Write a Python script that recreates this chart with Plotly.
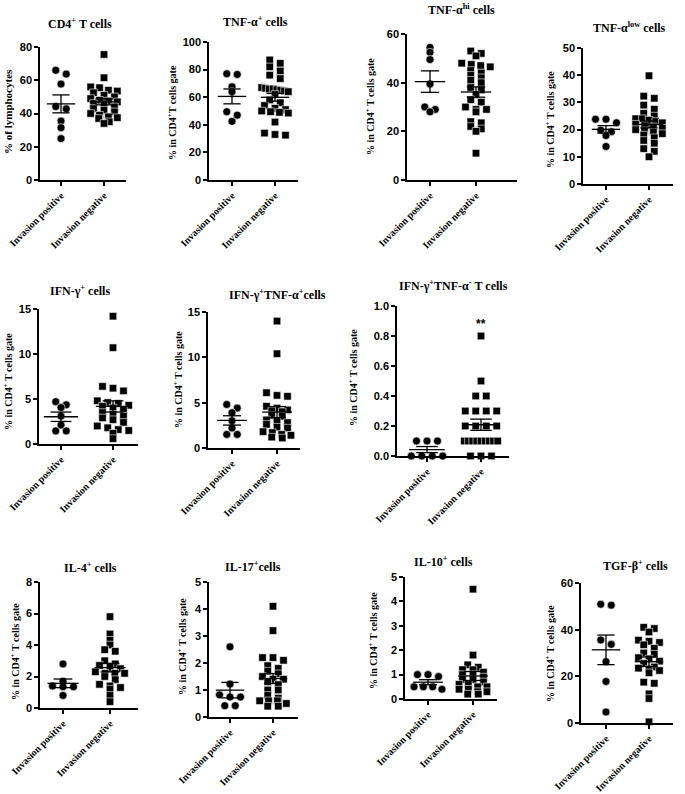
import numpy as np
import plotly.graph_objects as go

W, H = 685, 794

categories = ["Invasion positive", "Invasion negative"]

titles = [
    "CD4<sup>+</sup> T cells",
    "TNF-α<sup>+</sup> cells",
    "TNF-α<sup>hi</sup> cells",
    "TNF-α<sup>low</sup> cells",
    "IFN-γ<sup>+</sup> cells",
    "IFN-γ<sup>+</sup>TNF-α<sup>+</sup>cells",
    "IFN-γ<sup>+</sup>TNF-α<sup>-</sup> T cells",
    "IL-4<sup>+</sup> cells",
    "IL-17<sup>+</sup>cells",
    "IL-10<sup>+</sup> cells",
    "TGF-β<sup>+</sup> cells",
]
ylabels = [
    "% of lymphocytes",
    "% in CD4<sup>+</sup>T cells gate",
    "% in CD4<sup>+</sup> T cells gate",
    "% in CD4<sup>+</sup> T cells gate",
    "% in CD4<sup>+</sup> T cells gate",
    "% in CD4<sup>+</sup> T cells gate",
    "% in CD4<sup>+</sup> T cells gate",
    "% in CD4<sup>+</sup> T cells gate",
    "% in CD4<sup>+</sup> T cells gate",
    "% in CD4<sup>+</sup> T cells gate",
    "% in CD4<sup>+</sup> T cells gate",
]
y_max = [80, 100, 60, 50, 15, 15, 1.0, 8, 5, 5, 60]
y_dtick = [20, 20, 20, 10, 5, 5, 0.2, 2, 1, 1, 20]
y_tickformat = ["d", "d", "d", "d", "d", "d", ".1f", "d", "d", "d", "d"]

# ---- data (positive = circles, negative = squares) ----
cd4_pos = [66, 63.7, 57.7, 44.2, 42.8, 35.5, 31.5, 24.9]
cd4_neg = [75.5, 61.5, 56, 55.5, 54, 53.5, 52.5, 51, 50, 49, 48, 47.5, 47, 46, 45,
           44, 43, 42, 41, 40, 39, 38, 37.5, 37, 35, 34]

tnf_pos = [77, 76.5, 67.5, 64, 49.5, 47, 42.5]
tnf_neg = [87, 84.5, 82, 79, 76, 73.5, 67, 66.5, 66, 66, 65.5, 65, 64.5, 64, 62, 58,
           56, 54, 52, 51, 50, 49.5, 49, 48.5, 42, 34, 33, 32.5]

tnfhi_pos = [54.5, 52.5, 49.5, 39.5, 30, 29, 28]
tnfhi_neg = [53, 52, 51, 48, 47.5, 47, 46.5, 45, 44, 43, 42, 41, 40, 38, 37, 35, 33,
             32, 30, 29, 29, 28, 24, 23.5, 22, 21, 20, 11]

tnflow_pos = [23.8, 23.8, 22.5, 19.8, 19.2, 17.8, 13.8]
tnflow_neg = [39.8, 32.3, 31.5, 29, 27.5, 26, 25, 24, 24, 23.5, 23, 22.5, 22, 21.5, 21,
              20.5, 20, 19.5, 19, 18.5, 18, 17, 16, 15, 13, 12, 10]

ifn_pos = [4.7, 4.35, 4.05, 3.1, 2.1, 1.45, 1.45]
ifn_neg = [14.2, 10.7, 6.4, 6.2, 5.9, 4.8, 4.6, 4.5, 4.3, 4.2, 4.0, 3.8, 3.5, 3.3, 3.1,
           2.9, 2.7, 2.4, 2.0, 1.8, 1.6, 1.5, 1.2, 0.6]

ifntnf_pos = [4.8, 4.4, 3.9, 3.0, 2.2, 1.5, 1.5]
ifntnf_neg = [14.0, 10.4, 6.1, 5.8, 5.7, 4.6, 4.4, 4.2, 4.1, 4.0, 3.6, 3.5, 3.1, 3.0,
              2.8, 2.6, 2.3, 2.2, 1.8, 1.7, 1.5, 1.4, 1.2, 1.1]

ifnnotnf_pos = [0.1, 0.1, 0.1, 0.0, 0.0, 0.0, 0.0]
ifnnotnf_neg = [0.8, 0.5, 0.4, 0.4, 0.3, 0.3, 0.3, 0.3, 0.2, 0.2, 0.2, 0.2, 0.1, 0.1,
                0.1, 0.1, 0.1, 0.1, 0.1, 0.1, 0.1, 0.0, 0.0, 0.0]

il4_pos = [2.8, 1.7, 1.4, 1.35, 1.35, 0.8]
il4_neg = [5.8, 4.7, 4.3, 4.0, 3.7, 3.6, 3.0, 2.8, 2.7, 2.6, 2.5, 2.3, 2.2, 2.2, 2.2,
           2.0, 1.8, 1.5, 1.4, 1.3, 1.2, 0.8, 0.4]

il17_pos = [2.6, 1.22, 0.82, 0.74, 0.74, 0.42, 0.42]
il17_neg = [4.1, 3.2, 2.2, 2.2, 2.1, 1.9, 1.8, 1.7, 1.6, 1.5, 1.4, 1.4, 1.3, 1.2, 1.0,
            1.0, 0.8, 0.7, 0.6, 0.6, 0.6, 0.5, 0.4, 0.4]

il10_pos = [1.0, 0.92, 1.0, 0.4, 0.5, 0.5, 0.5]
il10_neg = [4.5, 1.8, 1.4, 1.3, 1.2, 1.2, 1.1, 1.0, 1.0, 0.9, 0.8, 0.8, 0.7, 0.6, 0.6,
            0.5, 0.5, 0.4, 0.4, 0.3, 0.3, 0.2, 0.2]

tgf_pos = [50.9, 50.5, 35.6, 33.7, 26.3, 17.8, 4.7]
tgf_neg = [41, 40.5, 39, 35.5, 35, 34.5, 33.5, 32, 30, 29.5, 28, 27.5, 26.5, 25.5, 24,
           23.5, 23, 22.5, 21.5, 17.5, 17, 12.5, 10.5, 0.5]

positive = [cd4_pos, tnf_pos, tnfhi_pos, tnflow_pos, ifn_pos, ifntnf_pos, ifnnotnf_pos,
            il4_pos, il17_pos, il10_pos, tgf_pos]
negative = [cd4_neg, tnf_neg, tnfhi_neg, tnflow_neg, ifn_neg, ifntnf_neg, ifnnotnf_neg,
            il4_neg, il17_neg, il10_neg, tgf_neg]

# ---- layout geometry (pixels): axis x, axis end x, top tick y, zero y,
#      category 1 x, category 2 x, title cx, title y, ylabel x, ylabel y
geom = [
    (40, 126, 47, 180, 61, 104, 80, 24, 8, 112),
    (209, 298, 42, 180, 232, 275, 255, 22, 172, 113),
    (407, 517, 34, 180, 430, 476, 461, 9, 370, 107),
    (583, 673, 48, 184, 606, 649, 629, 28, 550, 120),
    (39, 138, 309, 444, 61, 113, 80, 290, 8, 382),
    (208, 300, 312, 448, 232, 277, 277, 294, 178, 380),
    (397, 509, 306, 456, 427, 481, 453, 285, 353, 377),
    (40, 138, 582, 708, 63, 110, 90, 567, 15, 652),
    (209, 298, 582, 717, 230, 273, 253, 566, 182, 647),
    (405, 497, 577, 699, 428, 473, 443, 561, 373, 641),
    (581, 673, 583, 723, 606, 649, 635, 565, 550, 654),
]

SERIF = "Liberation Serif"
SANS = "Liberation Sans"


def swarm(vals, center, px_x, px_y, row_h=4.5, step=10.5, max_w=0.62):
    order = sorted(range(len(vals)), key=lambda i: -vals[i])
    xs = [center] * len(vals)
    groups, cur = [], []
    for i in order:
        if cur and (vals[cur[0]] - vals[i]) * px_y > row_h:
            groups.append(cur)
            cur = []
        cur.append(i)
    if cur:
        groups.append(cur)
    for g in groups:
        n = len(g)
        if n == 1:
            continue
        sp = min(step, max_w * px_x / (n - 1))
        for k, i in enumerate(g):
            xs[i] = center + (k - (n - 1) / 2) * sp / px_x
    return xs


fig = go.Figure()
annotations = []

for p in range(11):
    ax_x, x_end, y_top, y0, c1, c2, tcx, ty, lx, ly = geom[p]
    n = p + 1
    xa = "x" if n == 1 else f"x{n}"
    ya = "y" if n == 1 else f"y{n}"
    px_x = c2 - c1
    px_y = (y0 - y_top) / y_max[p]
    xr = [(ax_x - c1) / px_x, (x_end - c1) / px_x]

    for gi, (vals, sym) in enumerate([(positive[p], "circle"), (negative[p], "square")]):
        xs = swarm(vals, gi, px_x, px_y)
        fig.add_trace(go.Scatter(
            x=xs, y=vals, mode="markers", xaxis=xa, yaxis=ya,
            marker=dict(symbol=sym, size=8 if sym == "circle" else 7.5, color="black",
                        line=dict(color="white", width=0.6)),
            cliponaxis=False, showlegend=False, hoverinfo="y"))
        arr = np.array(vals, dtype=float)
        m = arr.mean()
        s = arr.std(ddof=1) / np.sqrt(len(arr))
        mw, sw = 0.33, 0.2
        fig.add_trace(go.Scatter(
            x=[gi - mw, gi + mw, None, gi - sw, gi + sw, None, gi - sw, gi + sw, None, gi, gi],
            y=[m, m, None, m + s, m + s, None, m - s, m - s, None, m - s, m + s],
            mode="lines", xaxis=xa, yaxis=ya, line=dict(color="black", width=1.3),
            cliponaxis=False, showlegend=False, hoverinfo="skip"))

    axis_common = dict(showline=True, linecolor="black", linewidth=1.5,
                       ticks="outside", ticklen=4, tickwidth=1.5, tickcolor="black",
                       showgrid=False, zeroline=False, automargin=False)
    fig.update_layout(**{
        ("xaxis" if n == 1 else f"xaxis{n}"): dict(
            domain=[ax_x / W, x_end / W], anchor=ya, range=xr,
            tickmode="array", tickvals=[0, 1], ticktext=categories, tickangle=-45,
            tickfont=dict(family=SERIF, size=10, color="black", weight="bold"),
            **axis_common),
        ("yaxis" if n == 1 else f"yaxis{n}"): dict(
            domain=[1 - y0 / H, 1 - y_top / H], anchor=xa, range=[0, y_max[p]],
            dtick=y_dtick[p], tick0=0, tickformat=y_tickformat[p],
            tickfont=dict(family=SANS, size=11, color="black", weight="bold"),
            **axis_common),
    })
    annotations.append(dict(
        text=titles[p], x=tcx / W, y=1 - ty / H, xref="paper", yref="paper",
        xanchor="center", yanchor="middle", showarrow=False,
        font=dict(family=SERIF, size=12, color="black", weight="bold")))
    annotations.append(dict(
        text=ylabels[p], x=lx / W, y=1 - ly / H, xref="paper", yref="paper",
        xanchor="center", yanchor="middle", showarrow=False, textangle=-90,
        font=dict(family=SERIF, size=11 if p == 0 else 10, color="black", weight="bold")))

# significance marker on IFN-γ+TNF-α- negative group
annotations.append(dict(
    text="**", x=1, y=0.88, xref="x7", yref="y7", showarrow=False,
    xanchor="center", yanchor="middle",
    font=dict(family=SANS, size=12, color="black", weight="bold")))

fig.update_layout(
    width=W, height=H, margin=dict(l=0, r=0, t=0, b=0, autoexpand=False),
    paper_bgcolor="white", plot_bgcolor="white",
    annotations=annotations, showlegend=False)

fig.write_html(
    "out.html",
    config={"displayModeBar": False},
    post_script="document.body.style.margin='0';document.body.style.overflow='hidden';")
